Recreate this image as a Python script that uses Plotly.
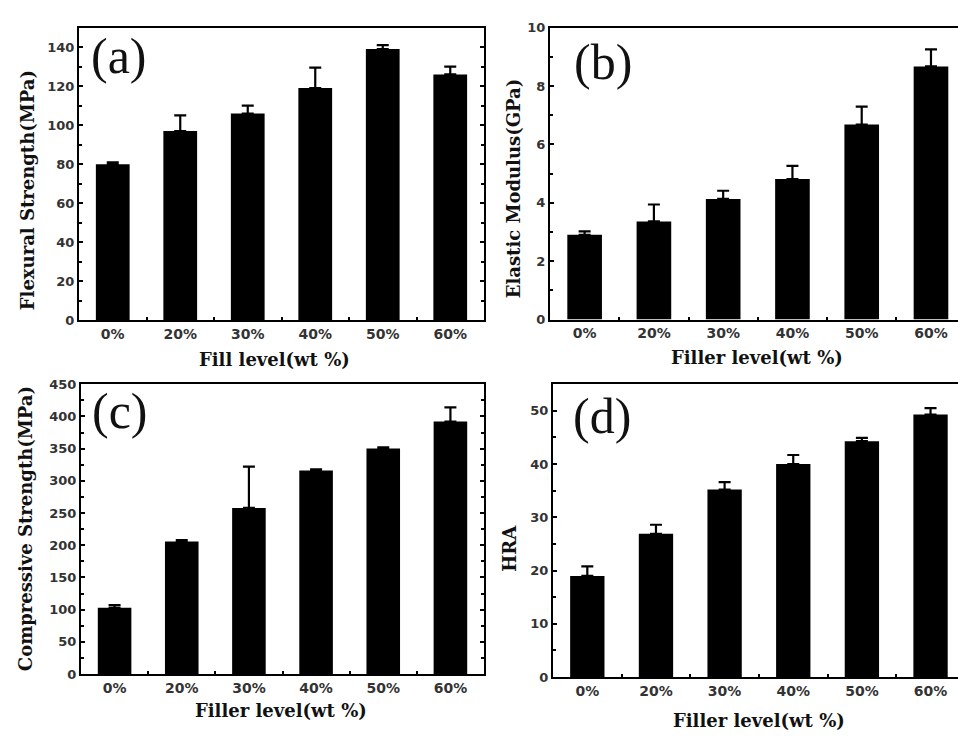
import plotly.graph_objects as go

W, H = 958, 738

categories = ["0%", "20%", "30%", "40%", "50%", "60%"]
positions = [1, 2, 3, 4, 5, 6]

flexural = [80, 97, 106, 119, 139, 126]
flexural_err = [1, 8, 4, 10.5, 2, 4]

modulus = [2.9, 3.36, 4.13, 4.81, 6.68, 8.67]
modulus_err = [0.12, 0.58, 0.28, 0.45, 0.61, 0.58]

compressive = [103, 206, 258, 316, 350, 392]
compressive_err = [4, 2, 64, 2, 2, 22]

hra = [19.0, 26.9, 35.2, 40.0, 44.3, 49.3]
hra_err = [1.8, 1.7, 1.4, 1.7, 0.6, 1.2]

panels = [
    dict(lab="(a)", v=flexural, e=flexural_err, yr=[0, 150], dt=20, mn=10,
         yt="Flexural Strength(MPa)", xt="Fill level(wt %)",
         box=(79, 484, 21, 320), xr=[0.5, 6.5], mirror_y=True,
         lab_xy=(119, 50), yt_xy=(27, 187), xt_xy=(274, 360)),
    dict(lab="(b)", v=modulus, e=modulus_err, yr=[0, 10], dt=2, mn=1,
         yt="Elastic Modulus(GPa)", xt="Filler level(wt %)",
         box=(550, 958, 21, 319), xr=[0.5, 6.39], mirror_y=False,
         lab_xy=(603, 56), yt_xy=(513, 185), xt_xy=(757, 358)),
    dict(lab="(c)", v=compressive, e=compressive_err, yr=[0, 450], dt=50, mn=25,
         yt="Compressive Strength(MPa)", xt="Filler level(wt %)",
         box=(81, 484, 385, 681), xr=[0.5, 6.5], mirror_y=True,
         lab_xy=(120, 412), yt_xy=(25, 533), xt_xy=(281, 718)),
    dict(lab="(d)", v=hra, e=hra_err, yr=[0, 55], dt=10, mn=5,
         yt="HRA", xt="Filler level(wt %)",
         box=(553, 958, 385, 684), xr=[0.5, 6.4], mirror_y=False,
         lab_xy=(602, 417), yt_xy=(510, 552), xt_xy=(759, 728)),
]

fig = go.Figure()
annotations = []
layout_axes = {}

xtickfont = dict(family="DejaVu Sans", size=14, color="#333", weight="bold")
ytickfont = dict(family="DejaVu Sans", size=13, color="#333", weight="bold")
titlefont = dict(family="DejaVu Serif", size=18, color="#111", weight="bold")

for i, p in enumerate(panels, start=1):
    xa = "x" if i == 1 else f"x{i}"
    ya = "y" if i == 1 else f"y{i}"
    fig.add_trace(go.Bar(
        x=positions, y=p["v"], width=0.5,
        marker=dict(color="black", line=dict(width=0)),
        error_y=dict(type="data", symmetric=False, array=p["e"],
                     arrayminus=[0] * len(p["e"]), color="black",
                     thickness=2.2, width=6),
        xaxis=xa, yaxis=ya, showlegend=False,
    ))
    x0, x1, yt, yb = p["box"]
    xkey = "xaxis" if i == 1 else f"xaxis{i}"
    ykey = "yaxis" if i == 1 else f"yaxis{i}"
    layout_axes[xkey] = dict(
        domain=[x0 / W, x1 / W], anchor=ya, range=p["xr"],
        tickmode="array", tickvals=positions, ticktext=categories,
        ticks="", showline=True, linecolor="black", linewidth=2,
        mirror=True, showgrid=False, zeroline=False, tickfont=xtickfont,
        minor=dict(tickmode="array", tickvals=[1.5, 2.5, 3.5, 4.5, 5.5],
                   ticks="inside", ticklen=3, tickwidth=2, tickcolor="black"),
        fixedrange=True,
    )
    layout_axes[ykey] = dict(
        domain=[1 - yb / H, 1 - yt / H], anchor=xa, range=p["yr"],
        dtick=p["dt"], tick0=0, ticks="inside", ticklen=4, tickwidth=2,
        tickcolor="black", showline=True, linecolor="black", linewidth=2,
        mirror="all" if p["mirror_y"] else False, showgrid=False, zeroline=False,
        tickfont=ytickfont,
        minor=dict(dtick=p["mn"], ticks="inside", ticklen=3, tickwidth=2,
                   tickcolor="black"),
        fixedrange=True,
    )
    annotations.append(dict(
        text=p["lab"], x=p["lab_xy"][0] / W, y=1 - p["lab_xy"][1] / H,
        xref="paper", yref="paper", showarrow=False, xanchor="center",
        yanchor="middle",
        font=dict(family="Liberation Serif", size=50, color="#111"),
    ))
    annotations.append(dict(
        text=p["yt"], x=p["yt_xy"][0] / W, y=1 - p["yt_xy"][1] / H,
        xref="paper", yref="paper", showarrow=False, textangle=-90,
        xanchor="center", yanchor="middle", font=titlefont,
    ))
    annotations.append(dict(
        text=p["xt"], x=p["xt_xy"][0] / W, y=1 - p["xt_xy"][1] / H,
        xref="paper", yref="paper", showarrow=False,
        xanchor="center", yanchor="middle", font=titlefont,
    ))

fig.update_layout(
    width=W, height=H, margin=dict(l=0, r=0, t=0, b=0),
    paper_bgcolor="white", plot_bgcolor="white",
    annotations=annotations, bargap=0.5,
    **layout_axes,
)

fig.write_html("out.html", config={"displayModeBar": False},
               post_script="document.body.style.margin='0';document.body.style.overflow='hidden';")
